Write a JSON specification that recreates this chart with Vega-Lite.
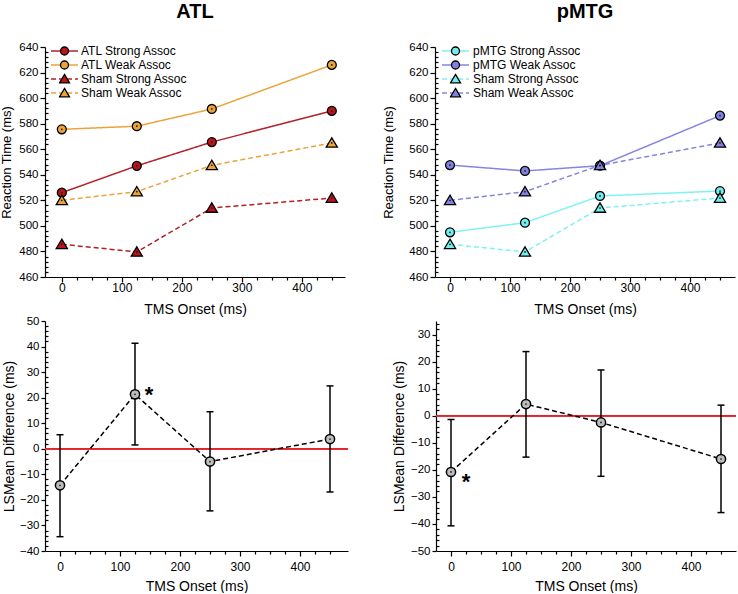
{
  "$schema": "https://vega.github.io/schema/vega-lite/v6.json",
  "padding": {"left": 0, "top": 2, "right": 0, "bottom": 0},
  "datasets": {
    "top": [
      {"panel": "ATL", "series": "ATL Strong Assoc", "onset": 0, "rt": 526},
      {"panel": "ATL", "series": "ATL Strong Assoc", "onset": 125, "rt": 547},
      {"panel": "ATL", "series": "ATL Strong Assoc", "onset": 250, "rt": 565.6},
      {"panel": "ATL", "series": "ATL Strong Assoc", "onset": 450, "rt": 590},
      {"panel": "ATL", "series": "ATL Weak Assoc", "onset": 0, "rt": 575.6},
      {"panel": "ATL", "series": "ATL Weak Assoc", "onset": 125, "rt": 578},
      {"panel": "ATL", "series": "ATL Weak Assoc", "onset": 250, "rt": 591.5},
      {"panel": "ATL", "series": "ATL Weak Assoc", "onset": 450, "rt": 626},
      {"panel": "ATL", "series": "Sham Strong Assoc", "onset": 0, "rt": 485.6},
      {"panel": "ATL", "series": "Sham Strong Assoc", "onset": 125, "rt": 479.6},
      {"panel": "ATL", "series": "Sham Strong Assoc", "onset": 250, "rt": 514},
      {"panel": "ATL", "series": "Sham Strong Assoc", "onset": 450, "rt": 521.8},
      {"panel": "ATL", "series": "Sham Weak Assoc", "onset": 0, "rt": 520},
      {"panel": "ATL", "series": "Sham Weak Assoc", "onset": 125, "rt": 526.8},
      {"panel": "ATL", "series": "Sham Weak Assoc", "onset": 250, "rt": 547.4},
      {"panel": "ATL", "series": "Sham Weak Assoc", "onset": 450, "rt": 564.9},
      {"panel": "pMTG", "series": "pMTG Strong Assoc", "onset": 0, "rt": 495},
      {"panel": "pMTG", "series": "pMTG Strong Assoc", "onset": 125, "rt": 502.5},
      {"panel": "pMTG", "series": "pMTG Strong Assoc", "onset": 250, "rt": 523.4},
      {"panel": "pMTG", "series": "pMTG Strong Assoc", "onset": 450, "rt": 527.3},
      {"panel": "pMTG", "series": "pMTG Weak Assoc", "onset": 0, "rt": 547.6},
      {"panel": "pMTG", "series": "pMTG Weak Assoc", "onset": 125, "rt": 543},
      {"panel": "pMTG", "series": "pMTG Weak Assoc", "onset": 250, "rt": 547.1},
      {"panel": "pMTG", "series": "pMTG Weak Assoc", "onset": 450, "rt": 586.3},
      {"panel": "pMTG", "series": "Sham Strong Assoc", "onset": 0, "rt": 485.6},
      {"panel": "pMTG", "series": "Sham Strong Assoc", "onset": 125, "rt": 479.6},
      {"panel": "pMTG", "series": "Sham Strong Assoc", "onset": 250, "rt": 514},
      {"panel": "pMTG", "series": "Sham Strong Assoc", "onset": 450, "rt": 521.8},
      {"panel": "pMTG", "series": "Sham Weak Assoc", "onset": 0, "rt": 520},
      {"panel": "pMTG", "series": "Sham Weak Assoc", "onset": 125, "rt": 526.8},
      {"panel": "pMTG", "series": "Sham Weak Assoc", "onset": 250, "rt": 547.4},
      {"panel": "pMTG", "series": "Sham Weak Assoc", "onset": 450, "rt": 564.9}
    ],
    "bottom": [
      {"panel": "ATL", "onset": 0, "diff": -14.3, "lo": -34.4, "hi": 5.5, "sig": ""},
      {"panel": "ATL", "onset": 125, "diff": 21.3, "lo": 1.5, "hi": 41.3, "sig": "*"},
      {"panel": "ATL", "onset": 250, "diff": -5, "lo": -24.3, "hi": 14.5, "sig": ""},
      {"panel": "ATL", "onset": 450, "diff": 3.8, "lo": -16.9, "hi": 24.6, "sig": ""},
      {"panel": "pMTG", "onset": 0, "diff": -20.8, "lo": -40.7, "hi": -1.4, "sig": "*"},
      {"panel": "pMTG", "onset": 125, "diff": 4.3, "lo": -15.3, "hi": 23.7, "sig": ""},
      {"panel": "pMTG", "onset": 250, "diff": -2.5, "lo": -22.4, "hi": 16.9, "sig": ""},
      {"panel": "pMTG", "onset": 450, "diff": -16, "lo": -35.8, "hi": 3.9, "sig": ""}
    ]
  },
  "config": {
    "font": "Liberation Sans",
    "view": {"stroke": null},
    "axis": {
      "grid": false,
      "domainColor": "black",
      "domainWidth": 1.2,
      "tickColor": "black",
      "tickWidth": 1.2,
      "labelColor": "black",
      "titleColor": "black",
      "labelFontSize": 12,
      "titleFontSize": 14,
      "titleFontWeight": "normal",
      "labelFlush": false,
      "labelOverlap": false
    },
    "title": {"fontSize": 20, "fontWeight": "bold", "color": "black", "anchor": "middle"},
    "legend": {"labelColor": "black", "labelFontSize": 12}
  },
  "resolve": {
    "scale": {"stroke": "independent", "strokeDash": "independent", "fill": "independent", "shape": "independent"},
    "legend": {"stroke": "independent", "strokeDash": "independent", "fill": "independent", "shape": "independent"}
  },
  "vconcat": [
    {
      "spacing": 37,
      "resolve": {
        "scale": {"stroke": "independent", "strokeDash": "independent", "fill": "independent", "shape": "independent"},
        "legend": {"stroke": "independent", "strokeDash": "independent", "fill": "independent", "shape": "independent"}
      },
      "hconcat": [
        {
          "width": 300,
          "height": 230,
          "title": {"text": "ATL", "baseline": "alphabetic", "offset": 3},
          "data": {"name": "top"},
          "transform": [{"filter": "datum.panel === 'ATL'"}],
          "encoding": {
            "x": {"field": "onset", "type": "quantitative", "scale": {"domain": [-28, 472], "nice": false, "zero": false},
              "axis": {"title": "TMS Onset (ms)", "values": [0,25,50,75,100,125,150,175,200,225,250,275,300,325,350,375,400,425,450],
                "labelExpr": "datum.value % 100 === 0 ? datum.label : ''",
                "tickSize": {"condition": {"test": "datum.value % 100 !== 0", "value": 3}, "value": 5},
                "labelOverlap": false, "labelPadding": 0, "titlePadding": 9}},
            "y": {"field": "rt", "type": "quantitative", "scale": {"domain": [460, 640], "nice": false, "zero": false},
              "axis": {"title": "Reaction Time (ms)", "titleFontSize": 13, "titlePadding": 5, "labelFontSize": 11.5,
                "values": [460,464,468,472,476,480,484,488,492,496,500,504,508,512,516,520,524,528,532,536,540,544,548,552,556,560,564,568,572,576,580,584,588,592,596,600,604,608,612,616,620,624,628,632,636,640],
                "labelExpr": "datum.value % 20 === 0 ? datum.label : ''",
                "tickSize": {"condition": {"test": "datum.value % 20 !== 0", "value": -3}, "value": 5},
                "labelOverlap": false, "labelPadding": 2}}
          },
          "layer": [
            {
              "mark": {"type": "line", "strokeWidth": 1.5},
              "encoding": {
                "stroke": {"field": "series", "type": "nominal",
                  "scale": {"domain": ["ATL Strong Assoc", "ATL Weak Assoc", "Sham Strong Assoc", "Sham Weak Assoc"], "range": ["#B0222A", "#EBA43A", "#B0222A", "#EBA43A"]},
                  "legend": {"orient": "none", "legendX": 5, "legendY": -2, "title": null, "symbolType": "stroke", "symbolSize": 729, "symbolStrokeWidth": 1.5, "clipHeight": 12, "labelOffset": 2, "rowPadding": 2, "padding": 0}},
                "strokeDash": {"field": "series", "type": "nominal",
                  "scale": {"domain": ["ATL Strong Assoc", "ATL Weak Assoc", "Sham Strong Assoc", "Sham Weak Assoc"], "range": [[1, 0], [1, 0], [5, 3], [5, 3]]},
                  "legend": {"orient": "none", "legendX": 5, "legendY": -2, "title": null, "symbolType": "stroke", "symbolSize": 729, "symbolStrokeWidth": 1.5, "clipHeight": 12, "labelOffset": 2, "rowPadding": 2, "padding": 0}}
              }
            },
            {
              "mark": {"type": "point", "filled": true, "stroke": "black", "strokeWidth": 1.3, "size": 80, "opacity": 1},
              "encoding": {
                "fill": {"field": "series", "type": "nominal", "sort": ["ATL Strong Assoc", "ATL Weak Assoc", "Sham Strong Assoc", "Sham Weak Assoc"],
                  "scale": {"range": ["#B8141C", "#EBA43A", "#B8141C", "#EBA43A"]}, "legend": null},
                "shape": {"field": "series", "type": "nominal", "sort": ["ATL Strong Assoc", "ATL Weak Assoc", "Sham Strong Assoc", "Sham Weak Assoc"],
                  "scale": {"range": ["circle", "circle", "M0,-1.15L1.25,0.95L-1.25,0.95Z", "M0,-1.15L1.25,0.95L-1.25,0.95Z"]},
                  "legend": {"orient": "none", "legendX": 13.5, "legendY": -2, "title": null, "symbolSize": 64, "symbolStrokeWidth": 1.3, "symbolStrokeColor": "black", "symbolOpacity": 1, "clipHeight": 12, "labelOpacity": 0, "labelExpr": "''", "rowPadding": 2, "padding": 0,
                    "symbolFillColor": {"expr": "indexof(datum.value, 'Strong') >= 0 ? '#B8141C' : '#EBA43A'"}}}
              }
            },
            {
              "mark": {"type": "point", "filled": true, "color": "#1a1a1a", "size": 3, "opacity": 1}
            }
          ]
        },
        {
          "width": 300,
          "height": 230,
          "title": {"text": "pMTG", "baseline": "alphabetic", "offset": 3},
          "data": {"name": "top"},
          "transform": [{"filter": "datum.panel === 'pMTG'"}],
          "encoding": {
            "x": {"field": "onset", "type": "quantitative", "scale": {"domain": [-25, 475], "nice": false, "zero": false},
              "axis": {"title": "TMS Onset (ms)", "values": [0,25,50,75,100,125,150,175,200,225,250,275,300,325,350,375,400,425,450],
                "labelExpr": "datum.value % 100 === 0 ? datum.label : ''",
                "tickSize": {"condition": {"test": "datum.value % 100 !== 0", "value": 3}, "value": 5},
                "labelOverlap": false, "labelPadding": 0, "titlePadding": 9}},
            "y": {"field": "rt", "type": "quantitative", "scale": {"domain": [460, 640], "nice": false, "zero": false},
              "axis": {"title": "Reaction Time (ms)", "titleFontSize": 13, "titlePadding": 13, "labelFontSize": 11.5,
                "values": [460,464,468,472,476,480,484,488,492,496,500,504,508,512,516,520,524,528,532,536,540,544,548,552,556,560,564,568,572,576,580,584,588,592,596,600,604,608,612,616,620,624,628,632,636,640],
                "labelExpr": "datum.value % 20 === 0 ? datum.label : ''",
                "tickSize": {"condition": {"test": "datum.value % 20 !== 0", "value": -3}, "value": 5},
                "labelOverlap": false, "labelPadding": 2}}
          },
          "layer": [
            {
              "mark": {"type": "line", "strokeWidth": 1.5},
              "encoding": {
                "stroke": {"field": "series", "type": "nominal",
                  "scale": {"domain": ["pMTG Strong Assoc", "pMTG Weak Assoc", "Sham Strong Assoc", "Sham Weak Assoc"], "range": ["#7FF2F2", "#8585E0", "#7FF2F2", "#8585E0"]},
                  "legend": {"orient": "none", "legendX": 6, "legendY": -2, "title": null, "symbolType": "stroke", "symbolSize": 729, "symbolStrokeWidth": 1.5, "clipHeight": 12, "labelOffset": 3, "rowPadding": 2, "padding": 0}},
                "strokeDash": {"field": "series", "type": "nominal",
                  "scale": {"domain": ["pMTG Strong Assoc", "pMTG Weak Assoc", "Sham Strong Assoc", "Sham Weak Assoc"], "range": [[1, 0], [1, 0], [5, 3], [5, 3]]},
                  "legend": {"orient": "none", "legendX": 6, "legendY": -2, "title": null, "symbolType": "stroke", "symbolSize": 729, "symbolStrokeWidth": 1.5, "clipHeight": 12, "labelOffset": 3, "rowPadding": 2, "padding": 0}}
              }
            },
            {
              "mark": {"type": "point", "filled": true, "stroke": "black", "strokeWidth": 1.3, "size": 80, "opacity": 1},
              "encoding": {
                "fill": {"field": "series", "type": "nominal", "sort": ["pMTG Strong Assoc", "pMTG Weak Assoc", "Sham Strong Assoc", "Sham Weak Assoc"],
                  "scale": {"range": ["#74EDED", "#8282DE", "#74EDED", "#8282DE"]}, "legend": null},
                "shape": {"field": "series", "type": "nominal", "sort": ["pMTG Strong Assoc", "pMTG Weak Assoc", "Sham Strong Assoc", "Sham Weak Assoc"],
                  "scale": {"range": ["circle", "circle", "M0,-1.15L1.25,0.95L-1.25,0.95Z", "M0,-1.15L1.25,0.95L-1.25,0.95Z"]},
                  "legend": {"orient": "none", "legendX": 14.5, "legendY": -2, "title": null, "symbolSize": 64, "symbolStrokeWidth": 1.3, "symbolStrokeColor": "black", "symbolOpacity": 1, "clipHeight": 12, "labelOpacity": 0, "labelExpr": "''", "rowPadding": 2, "padding": 0,
                    "symbolFillColor": {"expr": "indexof(datum.value, 'Strong') >= 0 ? '#74EDED' : '#8282DE'"}}}
              }
            },
            {
              "mark": {"type": "point", "filled": true, "color": "#1a1a1a", "size": 3, "opacity": 1}
            }
          ]
        }
      ]
    },
    {
      "spacing": 43,
      "hconcat": [
        {
          "width": 303,
          "height": 230,
          "data": {"name": "bottom"},
          "transform": [{"filter": "datum.panel === 'ATL'"}],
          "layer": [
            {
              "mark": {"type": "rule", "color": "#E3222A", "strokeWidth": 1.5},
              "encoding": {"y": {"datum": 0, "type": "quantitative", "scale": {"domain": [-40, 50], "nice": false, "zero": false},
                "axis": {"title": "LSMean Difference (ms)", "titlePadding": 3, "labelFontSize": 11.5,
                  "values": [-40,-38,-36,-34,-32,-30,-28,-26,-24,-22,-20,-18,-16,-14,-12,-10,-8,-6,-4,-2,0,2,4,6,8,10,12,14,16,18,20,22,24,26,28,30,32,34,36,38,40,42,44,46,48,50],
                  "labelExpr": "datum.value % 10 === 0 ? datum.label : ''",
                  "tickSize": {"condition": {"test": "datum.value % 10 !== 0", "value": -3}, "value": 4},
                  "labelOverlap": false, "labelPadding": 2}}}
            },
            {
              "mark": {"type": "rule", "color": "black", "strokeWidth": 1.5},
              "encoding": {
                "x": {"field": "onset", "type": "quantitative", "scale": {"domain": [-25, 480], "nice": false, "zero": false},
                  "axis": {"title": "TMS Onset (ms)", "values": [0,25,50,75,100,125,150,175,200,225,250,275,300,325,350,375,400,425,450],
                    "labelExpr": "datum.value % 100 === 0 ? datum.label : ''",
                    "tickSize": {"condition": {"test": "datum.value % 100 !== 0", "value": 3}, "value": 5},
                    "labelOverlap": false, "labelPadding": 5, "titlePadding": 7}},
                "y": {"field": "lo", "type": "quantitative", "scale": {"domain": [-40, 50], "nice": false, "zero": false},
                  "axis": {"title": "LSMean Difference (ms)", "titlePadding": 3, "labelFontSize": 11.5,
                    "values": [-40,-38,-36,-34,-32,-30,-28,-26,-24,-22,-20,-18,-16,-14,-12,-10,-8,-6,-4,-2,0,2,4,6,8,10,12,14,16,18,20,22,24,26,28,30,32,34,36,38,40,42,44,46,48,50],
                    "labelExpr": "datum.value % 10 === 0 ? datum.label : ''",
                    "tickSize": {"condition": {"test": "datum.value % 10 !== 0", "value": -3}, "value": 4},
                    "labelOverlap": false, "labelPadding": 2}},
                "y2": {"field": "hi"}
              }
            },
            {
              "mark": {"type": "tick", "orient": "horizontal", "color": "black", "size": 7, "thickness": 1.5, "opacity": 1},
              "encoding": {
                "x": {"field": "onset", "type": "quantitative", "scale": {"domain": [-25, 480], "nice": false, "zero": false},
                  "axis": {"title": "TMS Onset (ms)", "values": [0,25,50,75,100,125,150,175,200,225,250,275,300,325,350,375,400,425,450],
                    "labelExpr": "datum.value % 100 === 0 ? datum.label : ''",
                    "tickSize": {"condition": {"test": "datum.value % 100 !== 0", "value": 3}, "value": 5},
                    "labelOverlap": false, "labelPadding": 5, "titlePadding": 7}},
                "y": {"field": "lo", "type": "quantitative", "scale": {"domain": [-40, 50], "nice": false, "zero": false},
                  "axis": {"title": "LSMean Difference (ms)", "titlePadding": 3, "labelFontSize": 11.5,
                    "values": [-40,-38,-36,-34,-32,-30,-28,-26,-24,-22,-20,-18,-16,-14,-12,-10,-8,-6,-4,-2,0,2,4,6,8,10,12,14,16,18,20,22,24,26,28,30,32,34,36,38,40,42,44,46,48,50],
                    "labelExpr": "datum.value % 10 === 0 ? datum.label : ''",
                    "tickSize": {"condition": {"test": "datum.value % 10 !== 0", "value": -3}, "value": 4},
                    "labelOverlap": false, "labelPadding": 2}}
              }
            },
            {
              "mark": {"type": "tick", "orient": "horizontal", "color": "black", "size": 7, "thickness": 1.5, "opacity": 1},
              "encoding": {
                "x": {"field": "onset", "type": "quantitative", "scale": {"domain": [-25, 480], "nice": false, "zero": false},
                  "axis": {"title": "TMS Onset (ms)", "values": [0,25,50,75,100,125,150,175,200,225,250,275,300,325,350,375,400,425,450],
                    "labelExpr": "datum.value % 100 === 0 ? datum.label : ''",
                    "tickSize": {"condition": {"test": "datum.value % 100 !== 0", "value": 3}, "value": 5},
                    "labelOverlap": false, "labelPadding": 5, "titlePadding": 7}},
                "y": {"field": "hi", "type": "quantitative", "scale": {"domain": [-40, 50], "nice": false, "zero": false},
                  "axis": {"title": "LSMean Difference (ms)", "titlePadding": 3, "labelFontSize": 11.5,
                    "values": [-40,-38,-36,-34,-32,-30,-28,-26,-24,-22,-20,-18,-16,-14,-12,-10,-8,-6,-4,-2,0,2,4,6,8,10,12,14,16,18,20,22,24,26,28,30,32,34,36,38,40,42,44,46,48,50],
                    "labelExpr": "datum.value % 10 === 0 ? datum.label : ''",
                    "tickSize": {"condition": {"test": "datum.value % 10 !== 0", "value": -3}, "value": 4},
                    "labelOverlap": false, "labelPadding": 2}}
              }
            },
            {
              "encoding": {
                "x": {"field": "onset", "type": "quantitative", "scale": {"domain": [-25, 480], "nice": false, "zero": false},
                  "axis": {"title": "TMS Onset (ms)", "values": [0,25,50,75,100,125,150,175,200,225,250,275,300,325,350,375,400,425,450],
                    "labelExpr": "datum.value % 100 === 0 ? datum.label : ''",
                    "tickSize": {"condition": {"test": "datum.value % 100 !== 0", "value": 3}, "value": 5},
                    "labelOverlap": false, "labelPadding": 5, "titlePadding": 7}},
                "y": {"field": "diff", "type": "quantitative", "scale": {"domain": [-40, 50], "nice": false, "zero": false},
                  "axis": {"title": "LSMean Difference (ms)", "titlePadding": 3, "labelFontSize": 11.5,
                    "values": [-40,-38,-36,-34,-32,-30,-28,-26,-24,-22,-20,-18,-16,-14,-12,-10,-8,-6,-4,-2,0,2,4,6,8,10,12,14,16,18,20,22,24,26,28,30,32,34,36,38,40,42,44,46,48,50],
                    "labelExpr": "datum.value % 10 === 0 ? datum.label : ''",
                    "tickSize": {"condition": {"test": "datum.value % 10 !== 0", "value": -3}, "value": 4},
                    "labelOverlap": false, "labelPadding": 2}}
              },
              "layer": [
                {"mark": {"type": "line", "color": "black", "strokeWidth": 1.5, "strokeDash": [5, 3]}},
                {"mark": {"type": "point", "filled": true, "fill": "#BDBDBD", "stroke": "black", "strokeWidth": 1.5, "size": 85, "opacity": 1}},
                {"mark": {"type": "point", "filled": true, "color": "#1a1a1a", "size": 3, "opacity": 1}},
                {
                  "transform": [{"filter": "datum.sig === '*'"}],
                  "mark": {"type": "text", "fontSize": 22, "fontWeight": "bold", "color": "black", "baseline": "alphabetic", "align": "center", "dx": 14, "dy": 8},
                  "encoding": {"text": {"field": "sig"}}
                }
              ]
            }
          ]
        },
        {
          "width": 300,
          "height": 230,
          "data": {"name": "bottom"},
          "transform": [{"filter": "datum.panel === 'pMTG'"}],
          "layer": [
            {
              "mark": {"type": "rule", "color": "#E3222A", "strokeWidth": 1.5},
              "encoding": {"y": {"datum": 0, "type": "quantitative", "scale": {"domain": [-50, 35], "nice": false, "zero": false},
                "axis": {"title": "LSMean Difference (ms)", "titlePadding": 4, "labelFontSize": 11.5,
                  "values": [-50,-48,-46,-44,-42,-40,-38,-36,-34,-32,-30,-28,-26,-24,-22,-20,-18,-16,-14,-12,-10,-8,-6,-4,-2,0,2,4,6,8,10,12,14,16,18,20,22,24,26,28,30,32,34],
                  "labelExpr": "datum.value % 10 === 0 ? datum.label : ''",
                  "tickSize": {"condition": {"test": "datum.value % 10 !== 0", "value": -3}, "value": 4},
                  "labelOverlap": false, "labelPadding": 2}}}
            },
            {
              "mark": {"type": "rule", "color": "black", "strokeWidth": 1.5},
              "encoding": {
                "x": {"field": "onset", "type": "quantitative", "scale": {"domain": [-25, 475], "nice": false, "zero": false},
                  "axis": {"title": "TMS Onset (ms)", "values": [0,25,50,75,100,125,150,175,200,225,250,275,300,325,350,375,400,425,450],
                    "labelExpr": "datum.value % 100 === 0 ? datum.label : ''",
                    "tickSize": {"condition": {"test": "datum.value % 100 !== 0", "value": 3}, "value": 5},
                    "labelOverlap": false, "labelPadding": 5, "titlePadding": 7}},
                "y": {"field": "lo", "type": "quantitative", "scale": {"domain": [-50, 35], "nice": false, "zero": false},
                  "axis": {"title": "LSMean Difference (ms)", "titlePadding": 4, "labelFontSize": 11.5,
                    "values": [-50,-48,-46,-44,-42,-40,-38,-36,-34,-32,-30,-28,-26,-24,-22,-20,-18,-16,-14,-12,-10,-8,-6,-4,-2,0,2,4,6,8,10,12,14,16,18,20,22,24,26,28,30,32,34],
                    "labelExpr": "datum.value % 10 === 0 ? datum.label : ''",
                    "tickSize": {"condition": {"test": "datum.value % 10 !== 0", "value": -3}, "value": 4},
                    "labelOverlap": false, "labelPadding": 2}},
                "y2": {"field": "hi"}
              }
            },
            {
              "mark": {"type": "tick", "orient": "horizontal", "color": "black", "size": 7, "thickness": 1.5, "opacity": 1},
              "encoding": {
                "x": {"field": "onset", "type": "quantitative", "scale": {"domain": [-25, 475], "nice": false, "zero": false},
                  "axis": {"title": "TMS Onset (ms)", "values": [0,25,50,75,100,125,150,175,200,225,250,275,300,325,350,375,400,425,450],
                    "labelExpr": "datum.value % 100 === 0 ? datum.label : ''",
                    "tickSize": {"condition": {"test": "datum.value % 100 !== 0", "value": 3}, "value": 5},
                    "labelOverlap": false, "labelPadding": 5, "titlePadding": 7}},
                "y": {"field": "lo", "type": "quantitative", "scale": {"domain": [-50, 35], "nice": false, "zero": false},
                  "axis": {"title": "LSMean Difference (ms)", "titlePadding": 4, "labelFontSize": 11.5,
                    "values": [-50,-48,-46,-44,-42,-40,-38,-36,-34,-32,-30,-28,-26,-24,-22,-20,-18,-16,-14,-12,-10,-8,-6,-4,-2,0,2,4,6,8,10,12,14,16,18,20,22,24,26,28,30,32,34],
                    "labelExpr": "datum.value % 10 === 0 ? datum.label : ''",
                    "tickSize": {"condition": {"test": "datum.value % 10 !== 0", "value": -3}, "value": 4},
                    "labelOverlap": false, "labelPadding": 2}}
              }
            },
            {
              "mark": {"type": "tick", "orient": "horizontal", "color": "black", "size": 7, "thickness": 1.5, "opacity": 1},
              "encoding": {
                "x": {"field": "onset", "type": "quantitative", "scale": {"domain": [-25, 475], "nice": false, "zero": false},
                  "axis": {"title": "TMS Onset (ms)", "values": [0,25,50,75,100,125,150,175,200,225,250,275,300,325,350,375,400,425,450],
                    "labelExpr": "datum.value % 100 === 0 ? datum.label : ''",
                    "tickSize": {"condition": {"test": "datum.value % 100 !== 0", "value": 3}, "value": 5},
                    "labelOverlap": false, "labelPadding": 5, "titlePadding": 7}},
                "y": {"field": "hi", "type": "quantitative", "scale": {"domain": [-50, 35], "nice": false, "zero": false},
                  "axis": {"title": "LSMean Difference (ms)", "titlePadding": 4, "labelFontSize": 11.5,
                    "values": [-50,-48,-46,-44,-42,-40,-38,-36,-34,-32,-30,-28,-26,-24,-22,-20,-18,-16,-14,-12,-10,-8,-6,-4,-2,0,2,4,6,8,10,12,14,16,18,20,22,24,26,28,30,32,34],
                    "labelExpr": "datum.value % 10 === 0 ? datum.label : ''",
                    "tickSize": {"condition": {"test": "datum.value % 10 !== 0", "value": -3}, "value": 4},
                    "labelOverlap": false, "labelPadding": 2}}
              }
            },
            {
              "encoding": {
                "x": {"field": "onset", "type": "quantitative", "scale": {"domain": [-25, 475], "nice": false, "zero": false},
                  "axis": {"title": "TMS Onset (ms)", "values": [0,25,50,75,100,125,150,175,200,225,250,275,300,325,350,375,400,425,450],
                    "labelExpr": "datum.value % 100 === 0 ? datum.label : ''",
                    "tickSize": {"condition": {"test": "datum.value % 100 !== 0", "value": 3}, "value": 5},
                    "labelOverlap": false, "labelPadding": 5, "titlePadding": 7}},
                "y": {"field": "diff", "type": "quantitative", "scale": {"domain": [-50, 35], "nice": false, "zero": false},
                  "axis": {"title": "LSMean Difference (ms)", "titlePadding": 4, "labelFontSize": 11.5,
                    "values": [-50,-48,-46,-44,-42,-40,-38,-36,-34,-32,-30,-28,-26,-24,-22,-20,-18,-16,-14,-12,-10,-8,-6,-4,-2,0,2,4,6,8,10,12,14,16,18,20,22,24,26,28,30,32,34],
                    "labelExpr": "datum.value % 10 === 0 ? datum.label : ''",
                    "tickSize": {"condition": {"test": "datum.value % 10 !== 0", "value": -3}, "value": 4},
                    "labelOverlap": false, "labelPadding": 2}}
              },
              "layer": [
                {"mark": {"type": "line", "color": "black", "strokeWidth": 1.5, "strokeDash": [5, 3]}},
                {"mark": {"type": "point", "filled": true, "fill": "#BDBDBD", "stroke": "black", "strokeWidth": 1.5, "size": 85, "opacity": 1}},
                {"mark": {"type": "point", "filled": true, "color": "#1a1a1a", "size": 3, "opacity": 1}},
                {
                  "transform": [{"filter": "datum.sig === '*'"}],
                  "mark": {"type": "text", "fontSize": 22, "fontWeight": "bold", "color": "black", "baseline": "alphabetic", "align": "center", "dx": 15, "dy": 17},
                  "encoding": {"text": {"field": "sig"}}
                }
              ]
            }
          ]
        }
      ]
    }
  ],
  "spacing": -1
}
